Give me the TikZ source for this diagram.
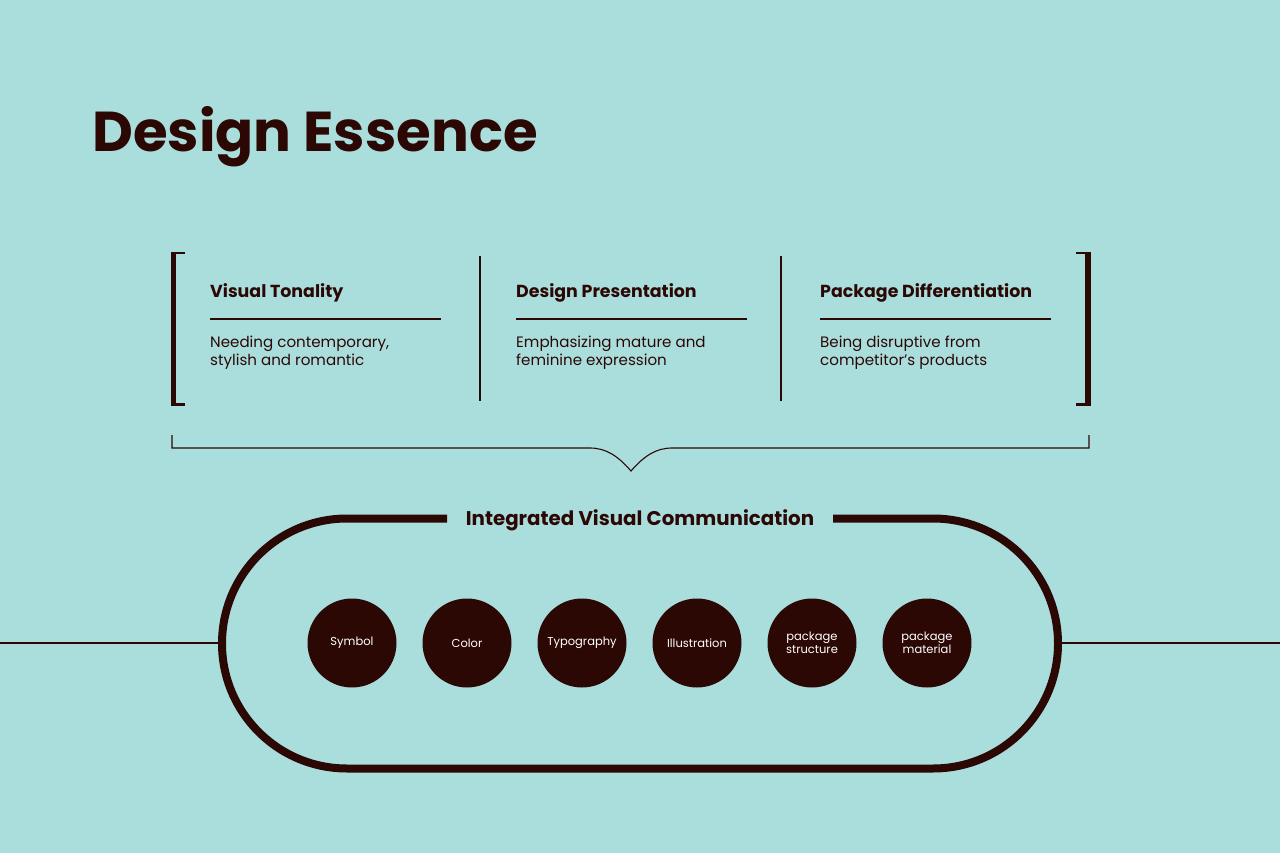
\documentclass[tikz,border=0pt]{standalone}
\usepackage{fontspec}
\setmainfont{Poppins}
\definecolor{bg}{RGB}{170,222,221}
\definecolor{dk}{RGB}{44,8,5}
\tikzset{
  thinline/.style={draw=dk, line width=1.1pt},
  heading/.style={anchor=base west, inner sep=0pt, text=dk, font=\fontsize{17.4}{17.4}\selectfont\bfseries},
  bodytxt/.style={anchor=base west, inner sep=0pt, text=dk, font=\fontsize{15.1}{15.1}\selectfont},
  topic/.style={circle, fill=dk, minimum size=89pt, inner sep=0pt, text=white, align=center, font=\fontsize{11.5}{13}\selectfont},
}
\begin{document}
\begin{tikzpicture}[x=1pt,y=-1pt]
\fill[bg] (0,0) rectangle (1280,853);
\useasboundingbox (0,0) rectangle (1280,853);

\node[anchor=base west, inner sep=0pt, text=dk, font=\fontsize{56.2}{56.2}\selectfont\bfseries] (title) at (92,152) {Design Essence};

% brackets
\fill[dk] (170.5,252) rectangle (176,405.5);
\fill[dk] (170.5,252) rectangle (185,254.5);
\fill[dk] (170.5,403) rectangle (185,405.5);
\fill[dk] (1084.5,252) rectangle (1090.5,405.5);
\fill[dk] (1076,252) rectangle (1090.5,254.5);
\fill[dk] (1076,403) rectangle (1090.5,405.5);

% separators
\draw[thinline] (480,256) -- (480,401);
\draw[thinline] (781,256) -- (781,401);

% columns
\node[heading] (h1) at (210,298) {Visual Tonality};
\draw[thinline] (210,319) -- (441,319);
\node[bodytxt] (b1a) at (210,347) {Needing contemporary,};
\node[bodytxt] (b1b) at (210,365) {stylish and romantic};

\node[heading] (h2) at (516,298) {Design Presentation};
\draw[thinline] (516,319) -- (747,319);
\node[bodytxt] (b2a) at (516,347) {Emphasizing mature and};
\node[bodytxt] (b2b) at (516,365) {feminine expression};

\node[heading] (h3) at (820,298) {Package Differentiation};
\draw[thinline] (820,319) -- (1051,319);
\node[bodytxt] (b3a) at (820,347) {Being disruptive from};
\node[bodytxt] (b3b) at (820,365) {competitor's products};

% brace
\draw[thinline, line join=miter] (172,435) -- (172,448) -- (590,448)
  .. controls (606,448) and (618,456) .. (631,471)
  .. controls (644,456) and (656,448) .. (672,448) -- (1089,448) -- (1089,435);

% stadium
\draw[dk, line width=8pt] (447,518.5) -- (347,518.5) arc (270:90:125) -- (933,768.5) arc (90:-90:125) -- (833,518.5);
\node[anchor=base, inner sep=0pt, text=dk, font=\fontsize{19.8}{19.8}\selectfont\bfseries] (ivc) at (640,525.5) {Integrated Visual Communication};

% side lines
\coordinate (lft) at (0,643);
\coordinate (lin) at (218,643);
\coordinate (rin) at (1062,643);
\coordinate (rgt) at (1280,643);
\draw[thinline] (lft) -- (lin);
\draw[thinline] (rin) -- (rgt);

% circles
\node[topic] (c1) at (352,643) {Symbol};
\node[topic] (c2) at (467,643) {Color};
\node[topic] (c3) at (582,643) {Typography};
\node[topic] (c4) at (697,643) {Illustration};
\node[topic] (c5) at (812,643) {package\\structure};
\node[topic] (c6) at (927,643) {package\\material};
\end{tikzpicture}
\end{document}
